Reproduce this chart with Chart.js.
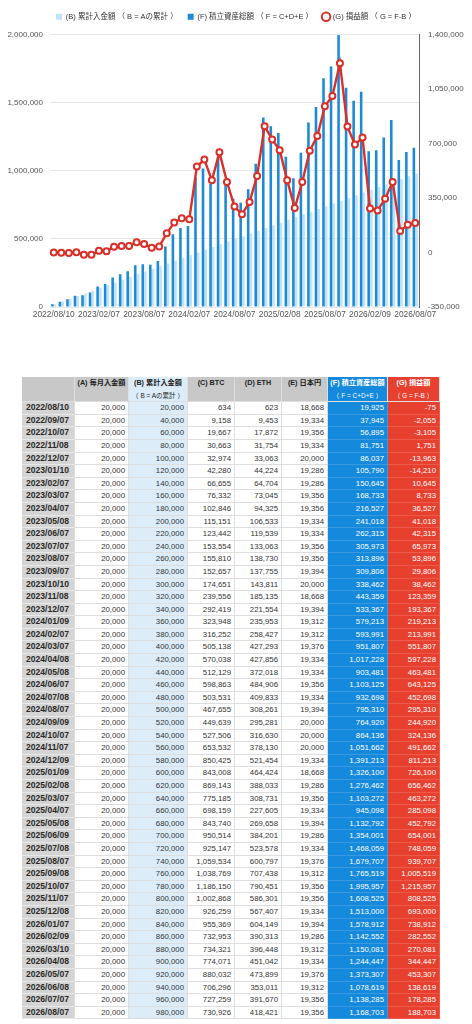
<!DOCTYPE html>
<html><head><meta charset="utf-8">
<script src="https://cdn.jsdelivr.net/npm/chart.js@4.4.1/dist/chart.umd.min.js"></script>
<style>
html,body{margin:0;padding:0;background:#fff;width:472px;height:1024px;overflow:hidden;font-family:"Liberation Sans","Noto Sans CJK JP",Arial,sans-serif;}
#wrap{position:absolute;left:0;top:0;width:472px;height:325px;}
#tbl{position:absolute;left:22px;top:377px;display:grid;grid-template-columns:53px 54px 59px 47px 47px 46px 60px 52px;grid-auto-rows:12.6px;}
#tbl div{box-sizing:border-box;border-right:1px solid #dedede;border-bottom:1px solid #dedede;font-size:7.8px;line-height:11.6px;text-align:right;padding-right:3px;color:#333;white-space:nowrap;overflow:hidden;}
#tbl div.d{background:#d4d4d4;font-weight:bold;font-size:8.6px;text-align:left;padding-left:4px;color:#2a2a2a;border-bottom:1px solid #e8e8e8;}
#tbl div.b{background:#dcedf9;}
#tbl div.f{background:#1589dc;color:#fff;border-color:#3a9ae0;}
#tbl div.g{background:#e8402f;color:#fff;border-color:#ec5a4b;}
#tbl div.h{background:#c8c8c8;font-weight:bold;text-align:center;padding:0;font-size:7.2px;color:#222;border-bottom:none;}
#tbl div.h2{background:#c8c8c8;text-align:center;padding:0;font-size:6.5px;border-bottom:1px solid #dedede;}
#tbl div.hb{background:#dcedf9;color:#222;}
#tbl div.hf{background:#1589dc;color:#fff;}
#tbl div.hg{background:#e8402f;color:#fff;}
</style></head><body>
<div id="wrap"><canvas id="c"></canvas></div>
<div id="tbl"></div>
<script>
const dates = ["2022/08/10","2022/09/07","2022/10/07","2022/11/08","2022/12/07","2023/01/10","2023/02/07","2023/03/07","2023/04/07","2023/05/08","2023/06/07","2023/07/07","2023/08/07","2023/09/07","2023/10/10","2023/11/08","2023/12/07","2024/01/09","2024/02/07","2024/03/07","2024/04/08","2024/05/08","2024/06/07","2024/07/08","2024/08/07","2024/09/09","2024/10/07","2024/11/07","2024/12/09","2025/01/09","2025/02/08","2025/03/07","2025/04/07","2025/05/08","2025/06/09","2025/07/08","2025/08/07","2025/09/08","2025/10/07","2025/11/07","2025/12/08","2026/01/07","2026/02/09","2026/03/10","2026/04/08","2026/05/07","2026/06/08","2026/07/07","2026/08/07"];
const monthlyA = [20000,20000,20000,20000,20000,20000,20000,20000,20000,20000,20000,20000,20000,20000,20000,20000,20000,20000,20000,20000,20000,20000,20000,20000,20000,20000,20000,20000,20000,20000,20000,20000,20000,20000,20000,20000,20000,20000,20000,20000,20000,20000,20000,20000,20000,20000,20000,20000,20000];
const cumulativeB = [20000,40000,60000,80000,100000,120000,140000,160000,180000,200000,220000,240000,260000,280000,300000,320000,340000,360000,380000,400000,420000,440000,460000,480000,500000,520000,540000,560000,580000,600000,620000,640000,660000,680000,700000,720000,740000,760000,780000,800000,820000,840000,860000,880000,900000,920000,940000,960000,980000];
const btcC = [634,9158,19667,30663,32974,42280,66655,76332,102846,115151,123442,153554,155810,152657,174651,239556,292419,323948,316252,505138,570038,512129,598863,503531,467655,449639,527506,653532,850425,843008,869143,775185,698159,843740,950514,925147,1059534,1038769,1186150,1002868,926259,955369,732953,734321,774071,880032,706296,727259,730926];
const ethD = [623,9453,17872,31754,33063,44224,64704,73045,94325,106533,119539,133063,138730,137755,143811,185135,221554,235953,258427,427293,427856,372018,484906,409833,308261,295281,316630,378130,521454,464424,388033,308731,227605,269658,384201,523578,600797,707438,790451,586301,567407,604149,390313,396448,451042,473899,353011,391670,418421];
const jpyE = [18668,19334,19356,19334,20000,19286,19286,19356,19356,19334,19334,19356,19356,19394,20000,18668,19394,19312,19312,19376,19334,19334,19356,19334,19394,20000,20000,20000,19334,18668,19286,19356,19334,19394,19286,19334,19376,19312,19356,19356,19334,19394,19286,19312,19334,19376,19312,19356,19356];
const totalF = [19925,37945,56895,81751,86037,105790,150645,168733,216527,241018,262315,305973,313896,309806,338462,443359,533367,579213,593991,951807,1017228,903481,1103125,932698,795310,764920,864136,1051662,1391213,1326100,1276462,1103272,945098,1132792,1354001,1468059,1679707,1765519,1995957,1608525,1513000,1578912,1142552,1150081,1244447,1373307,1078619,1138285,1168703];
const profitG = [-75,-2055,-3105,1751,-13963,-14210,10645,8733,36527,41018,42315,65973,53896,29806,38462,123359,193367,219213,213991,551807,597228,463481,643125,452698,295310,244920,324136,491662,811213,726100,656462,463272,285098,452792,654001,748059,939707,1005519,1215957,808525,693000,738912,282552,270081,344447,453307,138619,178285,188703];
const leftTicks = [0,500000,1000000,1500000,2000000];
const rightTicks = [-350000,0,350000,700000,1050000,1400000];
const legendNames = ["(B) 累計入金額 （ B = Aの累計 ）","(F) 積立資産総額 （ F = C+D+E ）","(G) 損益額 （ G = F-B ）"];
const headRow1 = ["","(A) 毎月入金額","(B) 累計入金額","(C) BTC","(D) ETH","(E) 日本円","(F) 積立資産総額","(G) 損益額"];
const headRow2 = ["","","（ B = Aの累計 ）","","","","（ F = C+D+E ）","（ G = F-B ）"];

const fmt = v => v.toLocaleString('en-US');
const tickFont = {family:'"Liberation Sans", Arial, sans-serif', size:8};

const legendSpace = {
  id:'legendSpace',
  afterInit(chart){
    const lg = chart.legend;
    if(lg){ const orig = lg.fit; lg.fit = function(){ orig.call(this); this.height += 4; }; }
  }
};

new Chart(document.getElementById('c'), {
  data: {
    labels: dates,
    datasets: [
      {type:'line', label:legendNames[2], data:profitG, yAxisID:'y1', borderColor:'#d9302a', borderWidth:2.4, pointRadius:3, pointBorderWidth:2, pointBackgroundColor:'#ffffff', pointBorderColor:'#d9302a', pointStyle:'circle', tension:0, order:0},
      {type:'bar', label:legendNames[0], data:cumulativeB, yAxisID:'y', backgroundColor:'#bfe2f7', borderColor:'#9fd2f0', borderWidth:0, pointStyle:'rect', categoryPercentage:0.72, barPercentage:0.95, order:2},
      {type:'bar', label:legendNames[1], data:totalF, yAxisID:'y', backgroundColor:'#1c8ad6', borderWidth:0, pointStyle:'rect', categoryPercentage:0.72, barPercentage:0.95, order:1}
    ]
  },
  plugins:[legendSpace],
  options: {
    responsive:true, maintainAspectRatio:false, animation:false,
    layout:{padding:{top:3,left:0,right:0,bottom:0}},
    plugins:{
      tooltip:{enabled:false},
      legend:{
        position:'top',
        labels:{
          usePointStyle:true, boxWidth:6, boxHeight:6, padding:10,
          font:{family:'"Liberation Sans","Noto Sans CJK JP", sans-serif', size:7.5}, color:'#333',
          sort:(a,b)=>[1,2,0].indexOf(a.datasetIndex)-[1,2,0].indexOf(b.datasetIndex)
        }
      }
    },
    scales:{
      x:{
        grid:{display:false, drawTicks:false}, border:{display:false},
        ticks:{autoSkip:false, maxRotation:0, minRotation:0, padding:3, color:'#555', font:{family:'"Liberation Sans", Arial, sans-serif', size:8.4},
          callback:function(v,i){ return i%6===0 ? dates[i] : ''; }},
        afterFit:s=>{s.height=18;}
      },
      y:{
        position:'left', min:0, max:2000000,
        afterBuildTicks:s=>{s.ticks=leftTicks.map(v=>({value:v}));},
        grid:{color:'#e6e6e6', drawTicks:false}, border:{display:false},
        ticks:{padding:7, color:'#555', font:tickFont, callback:v=>fmt(v)},
        afterFit:s=>{s.width=50;}
      },
      y1:{
        position:'right', min:-350000, max:1400000,
        afterBuildTicks:s=>{s.ticks=rightTicks.map(v=>({value:v}));},
        grid:{drawOnChartArea:false, drawTicks:false}, border:{display:true, color:'#666', width:1},
        ticks:{padding:9, color:'#555', font:tickFont, callback:v=>fmt(v)},
        afterFit:s=>{s.width=53;}
      }
    }
  }
});

const tbl = document.getElementById('tbl');
function cell(text, cls){ const d=document.createElement('div'); d.textContent=text; if(cls) d.className=cls; tbl.appendChild(d); }
const hcls = ['','','hb','','','','hf','hg'];
headRow1.forEach((t,i)=>cell(t,'h '+hcls[i]));
headRow2.forEach((t,i)=>cell(t,'h2 '+hcls[i]));
dates.forEach((d,i)=>{
  cell(d,'d');
  cell(fmt(monthlyA[i]));
  cell(fmt(cumulativeB[i]),'b');
  cell(fmt(btcC[i]));
  cell(fmt(ethD[i]));
  cell(fmt(jpyE[i]));
  cell(fmt(totalF[i]),'f');
  cell(fmt(profitG[i]),'g');
});
</script>
</body></html>
